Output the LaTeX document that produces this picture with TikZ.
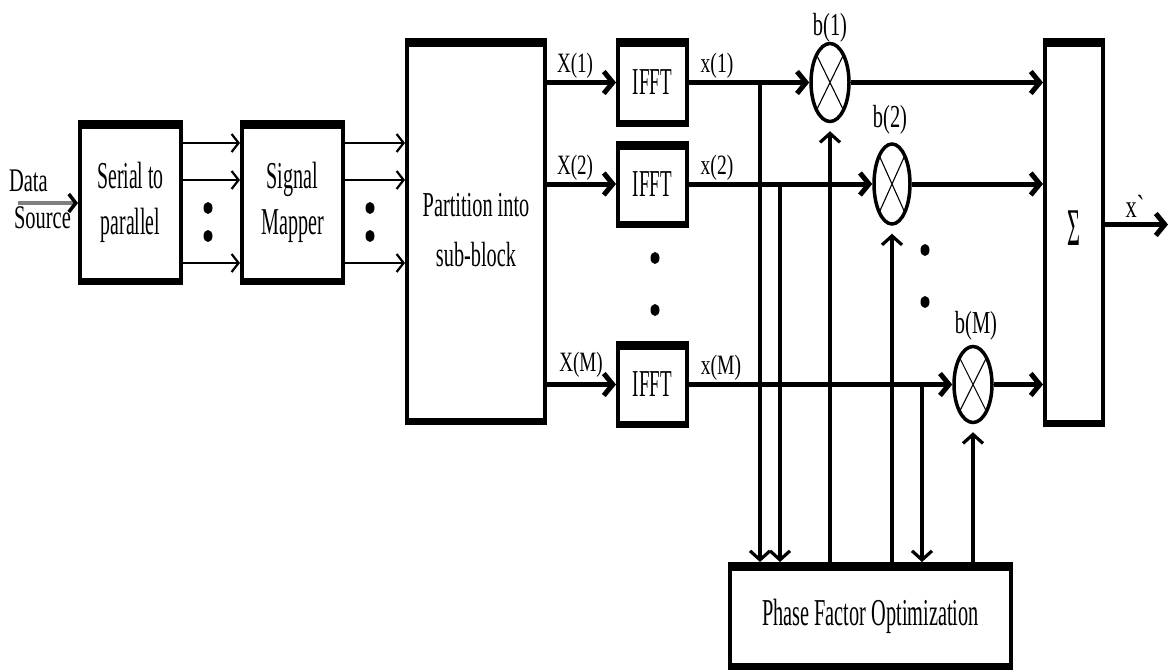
\documentclass[tikz,border=0pt]{standalone}
\usepackage{fontspec}
\setmainfont{Liberation Serif}
\usepackage{graphicx}
\usetikzlibrary{arrows.meta,shapes.geometric}
\newcommand\sx[2]{\scalebox{#1}[1]{#2}}
\newcommand\lns[2]{\scalebox{#1}[1]{\begin{tabular}{@{}c@{}}#2\end{tabular}}}
\newcommand\bars[1]{\fill (#1.north west) rectangle ([yshift=-9pt]#1.north east);
  \fill (#1.south west) rectangle ([yshift=7pt]#1.south east);}
\begin{document}
\begin{tikzpicture}[x=1pt,y=-1pt,
  box/.style={draw,line width=4pt,inner sep=0pt},
  mult/.style={ellipse,draw,line width=3.5pt,inner sep=0pt,
    path picture={\draw[line width=1.1pt]
      (path picture bounding box.north west) -- (path picture bounding box.south east)
      (path picture bounding box.north east) -- (path picture bounding box.south west);}},
  lbl/.style={inner sep=0pt},
  thinarr/.style={line width=2.2pt,-{Straight Barb[length=7pt,width=18pt]}},
  sig/.style={line width=5pt,-{Straight Barb[length=9pt,width=22pt]}},
  vln/.style={line width=3.2pt,-{Straight Barb[length=9pt,width=20pt]}},
  dataarr/.style={line width=3.5pt,draw=black!50,-{Straight Barb[length=7pt,width=18pt,color=black]}}
]
\useasboundingbox[fill=white] (0,0) rectangle (1173,672);

% boxes
\node[box,minimum width=101pt,minimum height=161pt,font=\fontsize{38}{46}\selectfont] (sp) at (130.5,202.5) {\lns{0.52}{Serial to\\parallel}};
\node[box,minimum width=101pt,minimum height=161pt,font=\fontsize{38}{46}\selectfont] (sm) at (292.5,202.5) {\lns{0.53}{Signal\\Mapper}};
\node[box,minimum width=138pt,minimum height=383pt,font=\fontsize{35}{50}\selectfont] (part) at (476,231.5) {\lns{0.58}{Partition into\\sub-block}};
\node[box,minimum width=69pt,minimum height=85pt,font=\fontsize{38}{40}\selectfont] (ifft1) at (652.5,82.5) {\sx{0.5}{IFFT}};
\node[box,minimum width=69pt,minimum height=83pt,font=\fontsize{38}{40}\selectfont] (ifft2) at (652.5,184) {\sx{0.5}{IFFT}};
\node[box,minimum width=69pt,minimum height=83pt,font=\fontsize{38}{40}\selectfont] (ifftM) at (652.5,384.5) {\sx{0.5}{IFFT}};
\node[box,minimum width=58pt,minimum height=385pt,font=\fontsize{53}{55}\selectfont] (sum) at (1074,232.5) {\raisebox{8pt}{\sx{0.42}{Σ}}};
\node[box,minimum width=281pt,minimum height=104pt,font=\fontsize{38}{40}\selectfont] (pfo) at (870.5,616) {\sx{0.535}{Phase Factor Optimization}};
\foreach \n in {sp,sm,part,ifft1,ifft2,ifftM,sum,pfo} {\bars{\n}}

% multipliers
\node[mult,minimum width=38pt,minimum height=78pt] (m1) at (830,82.5) {};
\node[mult,minimum width=36pt,minimum height=80pt] (m2) at (892,184) {};
\node[mult,minimum width=38pt,minimum height=76pt] (mM) at (973,384.5) {};

% data source
\node[lbl,font=\fontsize{33}{37}\selectfont] (ds) at (40,203) {\scalebox{0.62}[1]{\begin{tabular}{@{}l@{}}Data\\\hspace{8pt}Source\end{tabular}}};
\coordinate (dsrc) at (18,203);
\draw[dataarr] (dsrc) -- (sp.west |- dsrc);

% parallel arrows
\foreach \dy in {59.5,22.5,-60.5} {
  \draw[thinarr] ([yshift=\dy pt]sp.east) -- ([yshift=\dy pt]sm.west);
  \draw[thinarr] ([yshift=\dy pt]sm.east) -- ([yshift=\dy pt]sm.east -| part.west);
}

% signal paths
\draw[sig] (part.east |- ifft1) -- (ifft1.west);
\draw[sig] (part.east |- ifft2) -- (ifft2.west);
\draw[sig] (part.east |- ifftM) -- (ifftM.west);
\draw[sig] (ifft1.east) -- (m1.west);
\draw[sig] (ifft2.east) -- (m2.west);
\draw[sig] (ifftM.east) -- (mM.west);
\draw[sig] (m1.east) -- (m1 -| sum.west);
\draw[sig] (m2.east) -- (m2 -| sum.west);
\draw[sig] (mM.east) -- (mM -| sum.west);
\coordinate (xo) at (1168,224.5);
\draw[sig] (sum.east |- xo) -- (xo);

% to / from phase factor optimization
\coordinate (j1) at (760,82.5);
\coordinate (j2) at (780,184);
\coordinate (j3) at (922,384.5);
\draw[vln] (j1) -- (j1 |- pfo.north);
\draw[vln] (j2) -- (j2 |- pfo.north);
\draw[vln] (j3) -- (j3 |- pfo.north);
\draw[vln,shorten >=8pt] (pfo.north -| m1) -- (m1.south);
\draw[vln,shorten >=8pt] (pfo.north -| m2) -- (m2.south);
\draw[vln,shorten >=8pt] (pfo.north -| mM) -- (mM.south);

% dots
\foreach \x/\y in {208/208,208/236,370/208,370/236,655/258,655/310,925/250,925/302}
  {\fill (\x,\y) ellipse [x radius=4.5pt, y radius=6pt];}

% labels
\begin{scope}[every node/.style={lbl,font=\fontsize{28}{30}\selectfont}]
\node (lX1) at (575,66) {\sx{0.68}{X(1)}};
\node (lX2) at (575,168) {\sx{0.68}{X(2)}};
\node (lXM) at (581,365) {\sx{0.68}{X(M)}};
\node (lx1) at (717,66) {\sx{0.7}{x(1)}};
\node (lx2) at (717,168) {\sx{0.7}{x(2)}};
\node (lxM) at (721,368) {\sx{0.7}{x(M)}};
\end{scope}
\begin{scope}[every node/.style={lbl,font=\fontsize{32}{34}\selectfont}]
\node (lb1) at (830,28) {\sx{0.64}{b(1)}};
\node (lb2) at (890,120) {\sx{0.64}{b(2)}};
\node (lbM) at (976,326) {\sx{0.64}{b(M)}};
\node (lxo) at (1135,206) {\sx{0.7}{x\textasciigrave}};
\end{scope}
\end{tikzpicture}
\end{document}
